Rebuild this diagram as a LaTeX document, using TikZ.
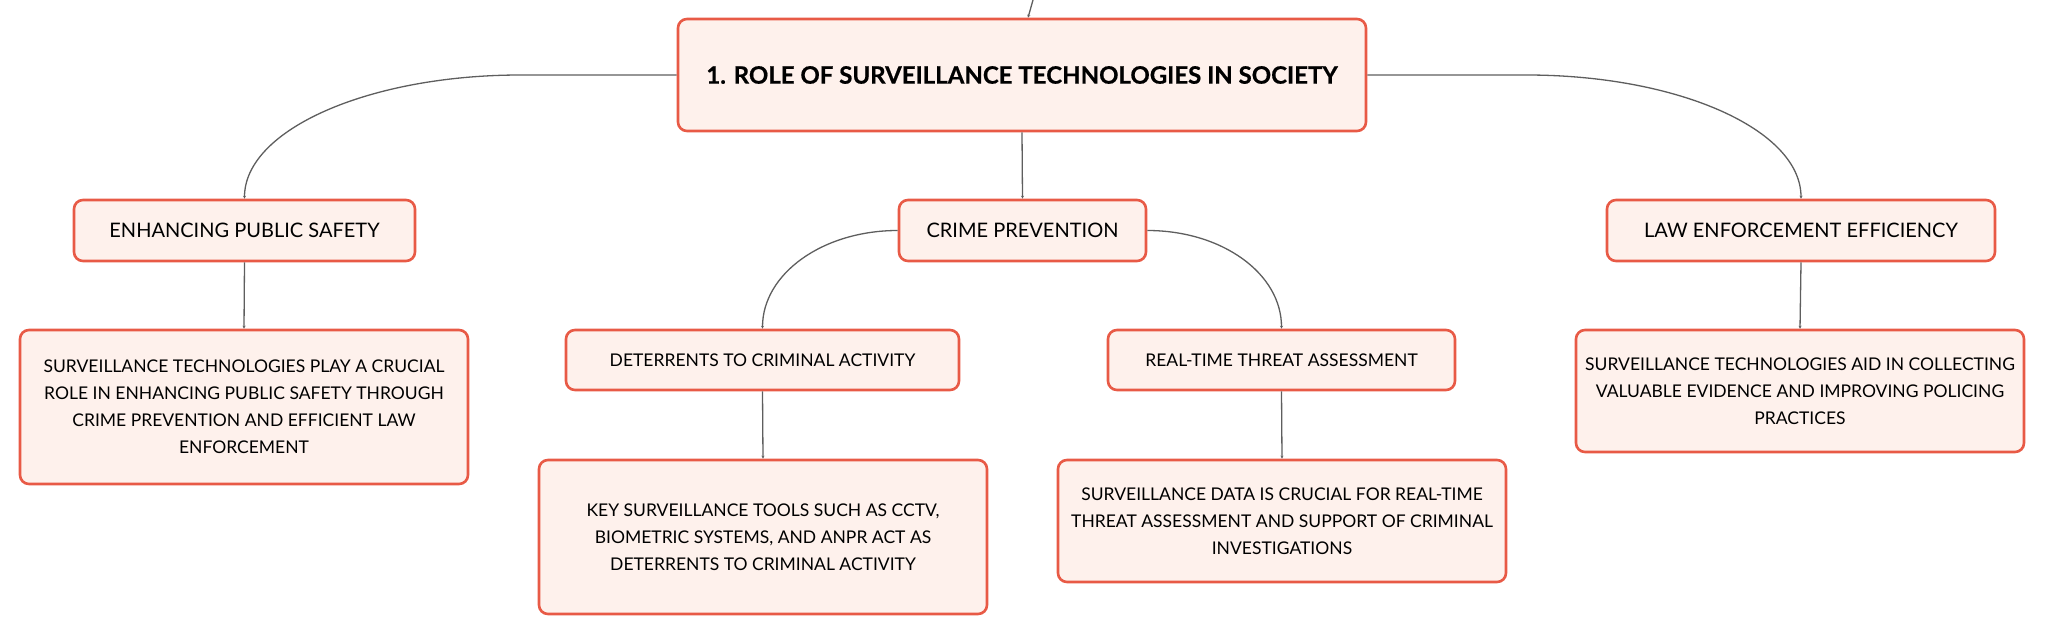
\documentclass[tikz,border=0pt]{standalone}
\usepackage{fontspec}
\setmainfont{Lato}
\usetikzlibrary{arrows.meta}
\definecolor{boxred}{HTML}{E85A46}
\definecolor{boxfill}{HTML}{FEF1EC}
\definecolor{linegray}{HTML}{5E5E5E}
\tikzset{
  box/.style={draw=boxred, line width=2.6pt, fill=boxfill, rounded corners=9pt,
    inner sep=0pt, align=center, text=black},
  rootbox/.style={box, font=\fontsize{24}{28}\selectfont\bfseries\addfontfeature{FakeBold=0.6}},
  lvlone/.style={box, font=\fontsize{20}{24}\selectfont},
  lvltwo/.style={box, font=\fontsize{17.5}{27}\selectfont},
  conn/.style={draw=linegray, line width=1.3pt, -{Stealth[length=3pt,width=3pt]}},
}
\begin{document}
\begin{tikzpicture}[x=1pt,y=-1pt]
\useasboundingbox (0,0) rectangle (2046,634);
% nodes
\node[rootbox, minimum width=688, minimum height=112] (root) at (1022,75)
  {1. ROLE OF SURVEILLANCE TECHNOLOGIES IN SOCIETY};
\node[lvlone, minimum width=341, minimum height=61] (eps) at (244.5,230.5)
  {ENHANCING PUBLIC SAFETY};
\node[lvlone, minimum width=247, minimum height=61] (cp) at (1022.5,230.5)
  {CRIME PREVENTION};
\node[lvlone, minimum width=388, minimum height=61] (lee) at (1801,230.5)
  {LAW ENFORCEMENT EFFICIENCY};
\node[lvltwo, minimum width=393, minimum height=60] (dtca) at (762.5,360)
  {DETERRENTS TO CRIMINAL ACTIVITY};
\node[lvltwo, minimum width=347, minimum height=60] (rtta) at (1281.5,360)
  {REAL-TIME THREAT ASSESSMENT};
\node[lvltwo, minimum width=448, minimum height=154] (epsd) at (244,407)
  {SURVEILLANCE TECHNOLOGIES PLAY A CRUCIAL\\ROLE IN ENHANCING PUBLIC SAFETY THROUGH\\CRIME PREVENTION AND EFFICIENT LAW\\ENFORCEMENT};
\node[lvltwo, minimum width=448, minimum height=154] (kst) at (763,537)
  {KEY SURVEILLANCE TOOLS SUCH AS CCTV,\\BIOMETRIC SYSTEMS, AND ANPR ACT AS\\DETERRENTS TO CRIMINAL ACTIVITY};
\node[lvltwo, minimum width=448, minimum height=122] (sdi) at (1282,521)
  {SURVEILLANCE DATA IS CRUCIAL FOR REAL-TIME\\THREAT ASSESSMENT AND SUPPORT OF CRIMINAL\\INVESTIGATIONS};
\node[lvltwo, minimum width=448, minimum height=122] (stac) at (1800,391)
  {SURVEILLANCE TECHNOLOGIES AID IN COLLECTING\\VALUABLE EVIDENCE AND IMPROVING POLICING\\PRACTICES};
% connectors
\coordinate (topend) at (1033,0);
\draw[conn] (topend) -- ([xshift=6pt]root.north);
\draw[conn] (root.west) -- ++(-156,0) .. controls +(-152,0) and +(0,-69) .. (eps.north);
\draw[conn] (root.east) -- ++(159,0) .. controls +(152,0) and +(0,-69) .. (lee.north);
\draw[conn] (root.south) -- (cp.north);
\draw[conn] (cp.west) .. controls +(-75,0) and +(0,-55) .. (dtca.north);
\draw[conn] (cp.east) .. controls +(75,0) and +(0,-55) .. (rtta.north);
\draw[conn] (eps.south) -- (epsd.north);
\draw[conn] (dtca.south) -- (kst.north);
\draw[conn] (rtta.south) -- (sdi.north);
\draw[conn] (lee.south) -- (stac.north);
\end{tikzpicture}
\end{document}
